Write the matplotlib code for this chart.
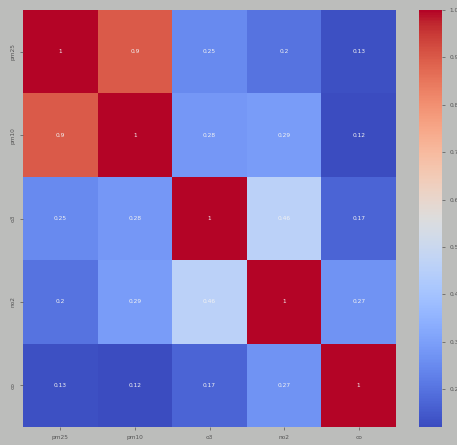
import matplotlib
matplotlib.use("Agg")
import matplotlib.pyplot as plt
import seaborn as sns
import numpy as np

# pollutant correlation matrix
labels = ["pm25", "pm10", "o3", "no2", "co"]
corr = np.array([
    [1.00, 0.90, 0.25, 0.20, 0.13],
    [0.90, 1.00, 0.28, 0.29, 0.12],
    [0.25, 0.28, 1.00, 0.46, 0.17],
    [0.20, 0.29, 0.46, 1.00, 0.27],
    [0.13, 0.12, 0.17, 0.27, 1.00],
])

W, H = 457, 445
bg = "#bcbdbb"
fig = plt.figure(figsize=(W / 100, H / 100), dpi=100, facecolor=bg)

left, right, top, bottom = 23, 396, 10, 427
ax = fig.add_axes([left / W, (H - bottom) / H, (right - left) / W, (bottom - top) / H])
cax = fig.add_axes([419 / W, (H - bottom) / H, 23 / W, (bottom - top) / H])

sns.heatmap(corr, ax=ax, cbar_ax=cax, cmap="coolwarm", annot=True,
            xticklabels=labels, yticklabels=labels,
            annot_kws={"fontsize": 4.2, "color": "#f2f2f2"})

ax.tick_params(labelsize=4.2, colors="#555555", length=2, width=0.5)
ax.set_facecolor(bg)
cax.tick_params(labelsize=4.2, colors="#555555", length=2, width=0.5)
for sp in cax.spines.values():
    sp.set_visible(False)

fig.savefig("out.png", dpi=100, facecolor=bg)
